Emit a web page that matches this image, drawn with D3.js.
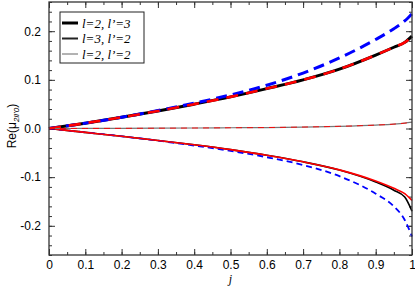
<!DOCTYPE html>
<meta charset="utf-8">
<style>
body { margin: 0; background-color: #FFFFFF; }
.tick text { font-family: "Liberation Sans", Arial, sans-serif; font-size: 12px; fill: #000; }
.axis .domain { display: none; }
.axis line { stroke: #333; }
</style>
<svg width="415" height="288"></svg>
<script src="https://d3js.org/d3.v7.min.js"></script>
<script>

// values
var jVals = [0, 0.1, 0.2, 0.3, 0.4, 0.5, 0.6, 0.7, 0.8, 0.9, 0.95, 0.98, 1];
var upperBlack = [0, 0.011, 0.023, 0.036, 0.050, 0.065, 0.082, 0.100, 0.122, 0.151, 0.167, 0.177, 0.190];
var upperRed   = [0, 0.011, 0.023, 0.036, 0.050, 0.065, 0.082, 0.100, 0.122, 0.151, 0.167, 0.177, 0.189];
var upperBlue  = [0, 0.011, 0.023, 0.037, 0.052, 0.069, 0.089, 0.114, 0.145, 0.183, 0.205, 0.221, 0.236];
var midGray    = [0, 0.0001, 0.0003, 0.0006, 0.001, 0.0015, 0.002, 0.003, 0.0045, 0.007, 0.009, 0.011, 0.013];
var midRed     = [0, 0.0001, 0.0003, 0.0006, 0.001, 0.0015, 0.002, 0.003, 0.0045, 0.007, 0.009, 0.011, 0.013];
var lowerBlack = [0, -0.008, -0.016, -0.0245, -0.0335, -0.0435, -0.0550, -0.0685, -0.0855, -0.110, -0.127, -0.141, -0.170];
var lowerRed   = [0, -0.008, -0.016, -0.0245, -0.0335, -0.0435, -0.0550, -0.0685, -0.0850, -0.108, -0.123, -0.134, -0.148];
var lowerBlue  = [0, -0.008, -0.016, -0.025, -0.035, -0.046, -0.059, -0.075, -0.098, -0.134, -0.160, -0.188, -0.222];

var xTicks = [0, 0.1, 0.2, 0.3, 0.4, 0.5, 0.6, 0.7, 0.8, 0.9, 1];
var xTickLabels = ["0", "0.1", "0.2", "0.3", "0.4", "0.5", "0.6", "0.7", "0.8", "0.9", "1"];
var yTicks = [-0.2, -0.1, 0, 0.1, 0.2];
var yTickLabels = ["-0.2", "-0.1", "0.0", "0.1", "0.2"];
var legendLabels = [["2", "3"], ["3", "2"], ["2", "2"]];

var svg = d3.select("svg"),
    margin = {top: 2, right: 3, bottom: 33, left: 49},
    width = 415 - margin.left - margin.right,
    height = 288 - margin.top - margin.bottom,
    g = svg.append("g").attr("transform", "translate(" + margin.left + "," + margin.top + ")");

var x = d3.scaleLinear().domain([0, 1]).range([0, width]);
var y = d3.scaleLinear().domain([-0.26, 0.26]).range([height, 0]);

var minorX = d3.range(0, 1.0001, 0.05);
var minorY = d3.range(-0.26, 0.2601, 0.02);

function fmt(list, labels) {
  return function(d) {
    var i = list.findIndex(function(v) { return Math.abs(v - d) < 1e-9; });
    return i < 0 ? "" : labels[i];
  };
}

// minor ticks on all four sides
g.append("g").attr("class", "axis").attr("transform", "translate(0," + height + ")")
    .call(d3.axisBottom(x).tickValues(minorX).tickSize(-3).tickFormat(""));
g.append("g").attr("class", "axis")
    .call(d3.axisTop(x).tickValues(minorX).tickSize(-3).tickFormat(""));
g.append("g").attr("class", "axis")
    .call(d3.axisLeft(y).tickValues(minorY).tickSize(-3).tickFormat(""));
g.append("g").attr("class", "axis").attr("transform", "translate(" + width + ",0)")
    .call(d3.axisRight(y).tickValues(minorY).tickSize(-3).tickFormat(""));

// major ticks
g.append("g").attr("class", "axis").attr("transform", "translate(0," + height + ")")
    .call(d3.axisBottom(x).tickValues(xTicks).tickSize(-6).tickPadding(5).tickFormat(fmt(xTicks, xTickLabels)));
g.append("g").attr("class", "axis")
    .call(d3.axisTop(x).tickValues(xTicks).tickSize(-6).tickFormat(""));
g.append("g").attr("class", "axis")
    .call(d3.axisLeft(y).tickValues(yTicks).tickSize(-6).tickPadding(8).tickFormat(fmt(yTicks, yTickLabels)));
g.append("g").attr("class", "axis").attr("transform", "translate(" + width + ",0)")
    .call(d3.axisRight(y).tickValues(yTicks).tickSize(-6).tickFormat(""));

var line = d3.line()
    .x(function(d) { return x(d[0]); })
    .y(function(d) { return y(d[1]); })
    .curve(d3.curveMonotoneX);

function pts(vals) { return jVals.map(function(j, i) { return [j, vals[i]]; }); }

var series = [
  {v: lowerBlack, color: "#000", w: 1.6, dash: null},
  {v: lowerBlue, color: "#0000ff", w: 1.8, dash: "6,4"},
  {v: lowerRed, color: "#ff0000", w: 1.6, dash: null},
  {v: upperBlack, color: "#000", w: 3, dash: null},
  {v: upperBlue, color: "#0000ff", w: 3, dash: "11,6"},
  {v: upperRed, color: "#ff0000", w: 2.6, dash: "12,8"},
  {v: midGray, color: "#777", w: 1.2, dash: null},
  {v: midRed, color: "#ff0000", w: 0.9, dash: "6,5"}
];

var plot = g.append("g");
plot.selectAll("path")
  .data(series)
  .enter().append("path")
    .attr("d", function(d) { return line(pts(d.v)); })
    .attr("fill", "none")
    .attr("stroke", function(d) { return d.color; })
    .attr("stroke-width", function(d) { return d.w; })
    .attr("stroke-dasharray", function(d) { return d.dash; });

// frame
g.append("rect")
    .attr("width", width).attr("height", height)
    .attr("fill", "none").attr("stroke", "#333").attr("stroke-width", 1.3);

// legend
var leg = g.append("g").attr("transform", "translate(11,10)");
leg.append("rect")
    .attr("width", 84).attr("height", 51)
    .attr("fill", "#fff").attr("stroke", "#222").attr("stroke-width", 1);
var legW = [3, 2, 1];
var legC = ["#000", "#222", "#666"];
var items = leg.selectAll("g.item")
  .data(legendLabels)
  .enter().append("g")
    .attr("class", "item")
    .attr("transform", function(d, i) { return "translate(0," + (11 + i * 15.5) + ")"; });
items.append("line")
    .attr("x1", 2).attr("x2", 18)
    .attr("stroke", function(d, i) { return legC[i]; })
    .attr("stroke-width", function(d, i) { return legW[i]; });
items.append("text")
    .attr("x", 22).attr("dy", "0.35em")
    .attr("font-family", "'Liberation Serif', 'Times New Roman', serif")
    .attr("font-style", "italic")
    .attr("font-size", 13)
    .text(function(d) { return "l=" + d[0] + ", l\u2019=" + d[1]; });

// axis titles
g.append("text")
    .attr("x", width / 2).attr("y", height + 28)
    .attr("text-anchor", "middle")
    .attr("font-family", "'Liberation Serif', serif")
    .attr("font-style", "italic")
    .attr("font-size", 12)
    .text("j");

var yl = svg.append("text")
    .attr("transform", "translate(16," + (margin.top + y(0.005)) + ") rotate(-90)")
    .attr("text-anchor", "middle")
    .attr("font-family", "'Liberation Sans', Arial, sans-serif")
    .attr("font-size", 12);
yl.append("tspan").text("Re(\u03bc");
yl.append("tspan").attr("dy", 3).attr("font-size", 8).attr("font-style", "italic").text("2ll\u20190");
yl.append("tspan").attr("dy", -3).text(")");

</script>
